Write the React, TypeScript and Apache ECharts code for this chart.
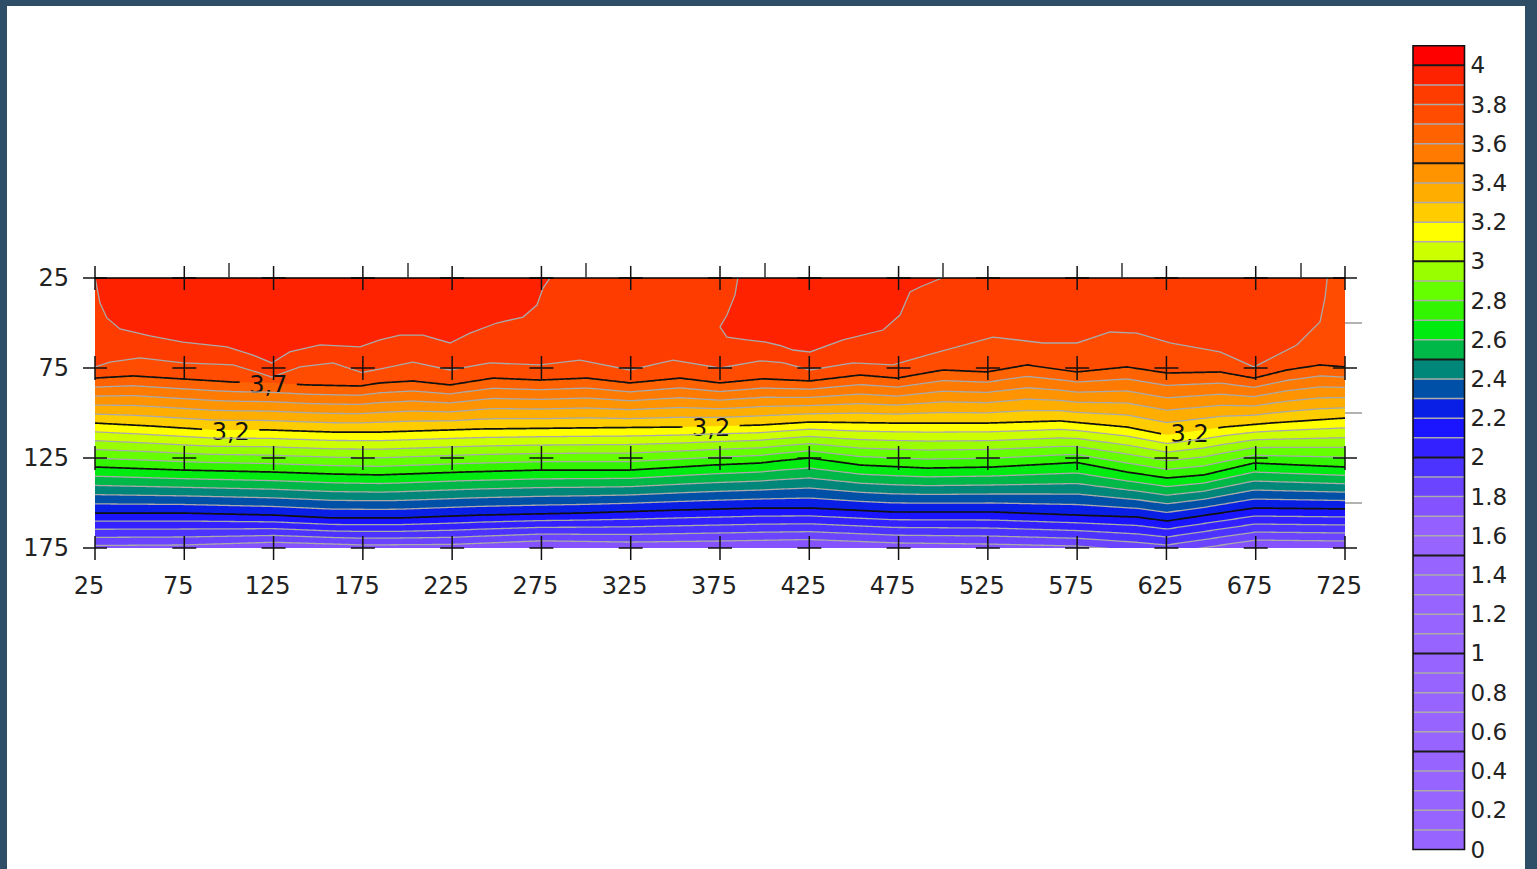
import React, { useEffect, useRef } from "react";
import * as echarts from "echarts";

// ---------- data ----------
const stationX = [25, 75, 125, 175, 225, 275, 325, 375, 425, 475, 525, 575, 625, 675, 725];
const stationDepth = [25, 75, 125, 175];
const topTickX = [100, 200, 300, 400, 500, 600, 700];
const rightTickDepth = [50, 100, 150];
const colorbarTicks = [0, 0.2, 0.4, 0.6, 0.8, 1, 1.2, 1.4, 1.6, 1.8, 2, 2.2, 2.4, 2.6, 2.8, 3, 3.2, 3.4, 3.6, 3.8, 4];

// colour of each 0.1-wide class, from 0.0–0.1 up to 4.0–4.1
const classColors = [
  "#9864ff", "#9864ff", "#9864ff", "#9864ff", "#9864ff", "#9864ff", "#9864ff", "#9864ff",
  "#9864ff", "#9864ff", "#9864ff", "#9864ff", "#9864ff", "#9864ff", "#9864ff", "#9864ff",
  "#9460ff", "#8552ff", "#6a44ff", "#4d33ff", "#3322ff", "#1a14ff", "#0a1fe6", "#0050a8",
  "#00877a", "#00b848", "#00ec10", "#33f500", "#66ff00", "#99ff00", "#ccff00", "#ffff00",
  "#ffcc00", "#ffae00", "#ff9400", "#ff7a00", "#ff6200", "#ff4c00", "#ff3c00", "#ff2200",
  "#ff0000",
];

const contourLevels = [3.9, 3.8, 3.7, 3.6, 3.5, 3.4, 3.3, 3.2, 3.1, 3.0, 2.9, 2.8, 2.7, 2.6, 2.5, 2.4, 2.3, 2.2, 2.1, 2.0, 1.9, 1.8];
const boldLevels = [3.7, 3.2, 2.7, 2.2];
const labels37 = [122];
const labels32 = [101, 370, 638];

// depth of read contours along the profile: [distance, depth]
const contour39: [number, number][] = [
  [24, 18], [25.3, 26], [27.8, 38.9], [31.7, 47.2], [39, 53.3], [55.8, 57.2], [74.3, 60.6], [98.9, 63.3],
  [113.5, 67.8], [124, 72.2], [134, 66.1], [151, 62.2], [173.4, 63.3], [184.6, 59.4], [195.8, 56.7],
  [208.7, 56.7], [223.8, 61.1], [235, 55.6], [250, 50], [264.7, 46.7], [272.5, 40], [275.9, 30.6],
  [279.8, 25], [281, 18], [384, 18], [385, 25], [383.4, 34.4], [378.9, 45.6], [375, 52.2], [378.9, 57.8],
  [390, 59.4], [400, 60.5], [408.6, 62.5], [415.9, 65], [425.4, 66.1], [443.9, 59.4], [466.3, 53.9],
  [475.8, 45.6], [481.4, 32.8], [487, 30], [496.5, 26.1], [499.3, 25], [500.5, 18], [735, 18],
];
const contour38: [number, number][] = [
  [25, 74.4], [33.4, 71.7], [50.2, 69.4], [74.3, 72.2], [102.3, 73.3], [117.4, 77.8], [124, 80],
  [139.8, 74.4], [158.3, 72.2], [174.5, 77.5], [185, 75.5], [203, 71.7], [223.8, 76.1], [246.2, 72.2],
  [274.2, 73.3], [296.6, 70.6], [324.6, 76.1], [348.7, 70.6], [375, 75], [397.4, 71], [410, 72],
  [425.4, 76.1], [449.5, 72.2], [471.9, 73.3], [490.9, 67.8], [527.9, 57.8], [555.9, 61.1], [574.9, 61.1],
  [593.4, 55], [608.5, 55.6], [627, 61.1], [655, 66.1], [674, 74.4], [698, 62.2], [711, 49.4],
  [713.8, 36.1], [715, 25.5], [716, 18], [735, 18],
];
const contour37: [number, number][] = [
  [25, 80.6], [46.3, 79.4], [74.3, 81.1], [102.3, 82.8], [124.7, 83.3], [143.7, 84.4], [173.4, 85],
  [184.6, 83.3], [203, 82.2], [223.8, 84.4], [247.9, 80.6], [274.2, 81.7], [300.5, 80.6], [324.6, 83.3],
  [352.6, 80.6], [375, 83.3], [399, 81], [425.4, 82.2], [453.4, 78.9], [474.1, 80.6], [499.9, 76.1],
  [524.5, 77.2], [546.9, 73.3], [574.9, 77.2], [602.9, 74.4], [625.3, 77.8], [655, 77.2], [674, 80.6],
  [692.5, 76.1], [711, 73.3], [725, 74.4],
];
const contour32: [number, number][] = [
  [25, 105.6], [55.8, 107.2], [91.1, 109.4], [121.3, 109.4], [158.3, 110.6], [184.6, 110.6],
  [240.6, 108.9], [296.6, 108.3], [352.6, 107.8], [397.4, 106.7], [425.4, 105], [471.9, 105.6],
  [524.5, 105.6], [565.4, 104.4], [602.9, 107.8], [625.3, 112.2], [657.2, 107.8], [683, 105.6], [725, 102.8],
];
const contour27: [number, number][] = [
  [25, 130], [74.3, 131.7], [124.7, 132.8], [158.3, 133.9], [184.6, 134.4], [231, 132.8], [274.2, 131.7],
  [324.6, 131.7], [371, 128.9], [397.4, 127.8], [408.6, 126.5], [425, 125], [453.4, 128.9], [490.9, 130.6],
  [527.9, 130], [574.9, 127.5], [602.9, 132.8], [625.3, 136.1], [646, 134.4], [674, 127.8], [725, 130],
];
const contour22: [number, number][] = [
  [25, 155.6], [74.3, 155.6], [124.7, 156.7], [158.3, 158.3], [195.8, 158.3], [240.6, 156.7],
  [296.6, 155.6], [352.6, 153.9], [397.4, 152.8], [425.4, 152.8], [471.9, 155], [527.9, 155],
  [574.9, 156.7], [608.5, 157.8], [625.3, 160], [655, 155.6], [674, 152.8], [725, 153.3],
];
const contour18: [number, number][] = [
  [25, 173.6], [75, 173.3], [125, 171.8], [175, 173.3], [225, 173], [275, 171], [325, 171.7], [375, 171.1],
  [425, 170.3], [475, 172.2], [525, 172.8], [575, 173.9], [625, 177.8], [675, 170.6], [725, 171.1],
];

// ---------- helpers ----------
const AXIS_FONT = "'DejaVu Sans', Verdana, sans-serif";

function interp(line: [number, number][], x: number): number {
  if (x <= line[0][0]) return line[0][1];
  for (let i = 1; i < line.length; i++) {
    const a = line[i - 1];
    const b = line[i];
    if (x <= b[0]) {
      const t = b[0] === a[0] ? 0 : (x - a[0]) / (b[0] - a[0]);
      return a[1] + t * (b[1] - a[1]);
    }
  }
  return line[line.length - 1][1];
}

type Level = { k: number; value: number; pts: [number, number][]; bold: boolean };

function buildLevels(): Level[] {
  const xs: number[] = [];
  for (let x = 25; x <= 725; x += 1) xs.push(x);
  const keys = [37, 32, 27, 22, 18];
  const keyLines: Record<number, [number, number][]> = {
    37: contour37, 32: contour32, 27: contour27, 22: contour22, 18: contour18,
  };
  const sampled: Record<number, number[]> = {};
  keys.forEach((k) => (sampled[k] = xs.map((x) => interp(keyLines[k], x))));
  return contourLevels.map((L) => {
    const k = Math.round(L * 10);
    let pts: [number, number][];
    if (k === 39) pts = contour39;
    else if (k === 38) pts = contour38;
    else {
      let u = keys[0];
      let l = keys[1];
      for (let i = 0; i < keys.length - 1; i++) {
        if (k <= keys[i] && k >= keys[i + 1]) {
          u = keys[i];
          l = keys[i + 1];
          break;
        }
      }
      const t = (u - k) / (u - l);
      pts = xs.map((x, i) => [x, sampled[u][i] + t * (sampled[l][i] - sampled[u][i])] as [number, number]);
    }
    return { k, value: L, pts, bold: boldLevels.some((b) => Math.abs(b - L) < 1e-6) };
  });
}

function buildOption() {
  const levels = buildLevels();
  const fills: { poly: [number, number][]; color: string }[] = [
    { poly: [[15, 185], [15, 10], [735, 10], [735, 185]], color: classColors[39] },
  ];
  levels.forEach((lv) => {
    const first = lv.pts[0];
    const last = lv.pts[lv.pts.length - 1];
    fills.push({
      poly: [[15, 185], [15, first[1]], ...lv.pts, [735, last[1]], [735, 185]],
      color: classColors[lv.k - 1],
    });
  });

  const gapHalf = 15.5;
  const crossData: number[][] = [];
  stationDepth.forEach((d) => stationX.forEach((x) => crossData.push([x, d])));

  return {
    animation: false,
    backgroundColor: "transparent",
    grid: [
      { left: 95, top: 278, width: 1250, height: 270, show: false },
      { left: 1413, top: 45.7, width: 51.5, height: 803.8, show: false },
    ],
    xAxis: [
      {
        type: "value", gridIndex: 0, position: "bottom", min: 25, max: 725, interval: 50,
        axisLine: { show: false }, axisTick: { show: false }, splitLine: { show: false },
        axisLabel: { fontSize: 24, fontFamily: AXIS_FONT, color: "#222", margin: 26, padding: [0, 12, 0, 0] },
      },
      {
        type: "value", gridIndex: 0, position: "top", min: 25, max: 725, z: 10,
        axisLine: { show: true, lineStyle: { color: "#000", width: 1.5 } },
        axisTick: { show: true, inside: false, length: 15, customValues: topTickX, lineStyle: { color: "#333", width: 1.5 } },
        axisLabel: { show: false }, splitLine: { show: false },
      },
      { type: "value", gridIndex: 1, min: 0, max: 1, show: false },
    ],
    yAxis: [
      {
        type: "value", gridIndex: 0, position: "left", inverse: true, min: 25, max: 175, interval: 50,
        axisLine: { show: false }, axisTick: { show: false }, splitLine: { show: false },
        axisLabel: { fontSize: 24, fontFamily: AXIS_FONT, color: "#222", margin: 26, padding: [3, 0, 0, 0] },
      },
      {
        type: "value", gridIndex: 0, position: "right", inverse: true, min: 25, max: 175, z: 10,
        axisLine: { show: false }, splitLine: { show: false }, axisLabel: { show: false },
        axisTick: { show: true, inside: false, length: 17, customValues: rightTickDepth, lineStyle: { color: "#999", width: 1.5 } },
      },
      {
        type: "value", gridIndex: 1, position: "right", min: 0, max: 4.1,
        axisLine: { show: false }, axisTick: { show: false }, splitLine: { show: false },
        axisLabel: {
          show: true, customValues: colorbarTicks, margin: 6, padding: [9, 0, 0, 0],
          fontSize: 23, fontFamily: AXIS_FONT, color: "#222",
          formatter: (v: number) => String(Number(v.toFixed(1))),
        },
      },
    ],
    series: [
      {
        type: "custom", name: "fill", xAxisIndex: 0, yAxisIndex: 0, clip: true, z: 1, silent: true,
        data: fills.map((_, i) => [25 + i, 100]),
        renderItem: (params: any, api: any) => {
          const it = fills[params.dataIndex];
          return {
            type: "polygon",
            shape: { points: it.poly.map((p) => api.coord(p)) },
            style: { fill: it.color },
          };
        },
      },
      {
        type: "custom", name: "contours", xAxisIndex: 0, yAxisIndex: 0, clip: true, z: 2, silent: true,
        data: levels.map((_, i) => [25 + i, 100]),
        renderItem: (params: any, api: any) => {
          const lv = levels[params.dataIndex];
          const labs = lv.k === 37 ? labels37 : lv.k === 32 ? labels32 : [];
          const segs: number[][][] = [];
          let cur: number[][] = [];
          for (const p of lv.pts) {
            const inGap = labs.some((lx) => Math.abs(p[0] - lx) < gapHalf);
            if (inGap) {
              if (cur.length > 1) segs.push(cur);
              cur = [];
            } else cur.push(api.coord(p));
          }
          if (cur.length > 1) segs.push(cur);
          const children: any[] = segs.map((s) => ({
            type: "polyline",
            shape: { points: s },
            style: {
              stroke: lv.bold ? "#111" : "#a9a9a9",
              lineWidth: lv.bold ? 1.7 : 1.3,
              fill: "none",
            },
          }));
          labs.forEach((lx) => {
            const c = api.coord([lx, interp(lv.pts, lx)]);
            children.push({
              type: "text",
              x: c[0],
              y: c[1] + 2,
              style: {
                text: lv.value.toFixed(1).replace(".", ","),
                fontSize: 24,
                fontFamily: AXIS_FONT,
                fill: "#111",
                align: "center",
                verticalAlign: "middle",
              },
            });
          });
          return { type: "group", children };
        },
      },
      {
        type: "custom", name: "stations", xAxisIndex: 0, yAxisIndex: 0, clip: false, z: 5, silent: true,
        data: crossData,
        renderItem: (params: any, api: any) => {
          const c = api.coord([api.value(0), api.value(1)]);
          const st = { stroke: "#111", lineWidth: 1.5 };
          return {
            type: "group",
            children: [
              { type: "line", shape: { x1: c[0] - 12, y1: c[1], x2: c[0] + 12, y2: c[1] }, style: st },
              { type: "line", shape: { x1: c[0], y1: c[1] - 12, x2: c[0], y2: c[1] + 12 }, style: st },
            ],
          };
        },
      },
      {
        type: "custom", name: "colorbar", xAxisIndex: 2, yAxisIndex: 2, z: 2, silent: true,
        data: classColors.map((_, i) => [0.5, i * 0.1 + 0.05]),
        renderItem: (params: any, api: any) => {
          const i = params.dataIndex;
          const p0 = api.coord([0, i * 0.1]);
          const p1 = api.coord([1, (i + 1) * 0.1]);
          return {
            type: "rect",
            shape: { x: p0[0], y: p1[1], width: p1[0] - p0[0], height: p0[1] - p1[1] + 0.6 },
            style: { fill: classColors[i] },
          };
        },
      },
      {
        type: "custom", name: "colorbarLines", xAxisIndex: 2, yAxisIndex: 2, z: 3, silent: true,
        data: classColors.slice(1).map((_, i) => [0.5, (i + 1) * 0.1]),
        renderItem: (params: any, api: any) => {
          const k = params.dataIndex + 1;
          const p0 = api.coord([0, k * 0.1]);
          const p1 = api.coord([1, k * 0.1]);
          const major = k % 5 === 0;
          return {
            type: "line",
            shape: { x1: p0[0], y1: p0[1], x2: p1[0], y2: p1[1] },
            style: { stroke: major ? "#1a1a1a" : "#ababab", lineWidth: major ? 2 : 1.5 },
          };
        },
      },
      {
        type: "custom", name: "colorbarFrame", xAxisIndex: 2, yAxisIndex: 2, z: 4, silent: true,
        data: [[0.5, 2]],
        renderItem: (params: any, api: any) => {
          const p0 = api.coord([0, 0]);
          const p1 = api.coord([1, 4.1]);
          return {
            type: "rect",
            shape: { x: p0[0], y: p1[1], width: p1[0] - p0[0], height: p0[1] - p1[1] },
            style: { fill: "none", stroke: "#111", lineWidth: 1.6 },
          };
        },
      },
    ],
  };
}

export default function App() {
  const ref = useRef<HTMLDivElement>(null);
  useEffect(() => {
    if (!ref.current) return;
    const chart = echarts.init(ref.current, undefined, { renderer: "svg" });
    chart.setOption(buildOption() as any);
    return () => chart.dispose();
  }, []);
  return (
    <div style={{ position: "fixed", left: 0, top: 0, width: 1537, height: 869, background: "#2e4d66", overflow: "hidden" }}>
      <div style={{ position: "absolute", left: 7, top: 6, width: 1518, height: 863, background: "#ffffff" }} />
      <div ref={ref} style={{ position: "absolute", left: 0, top: 0, width: 1537, height: 869 }} />
    </div>
  );
}
